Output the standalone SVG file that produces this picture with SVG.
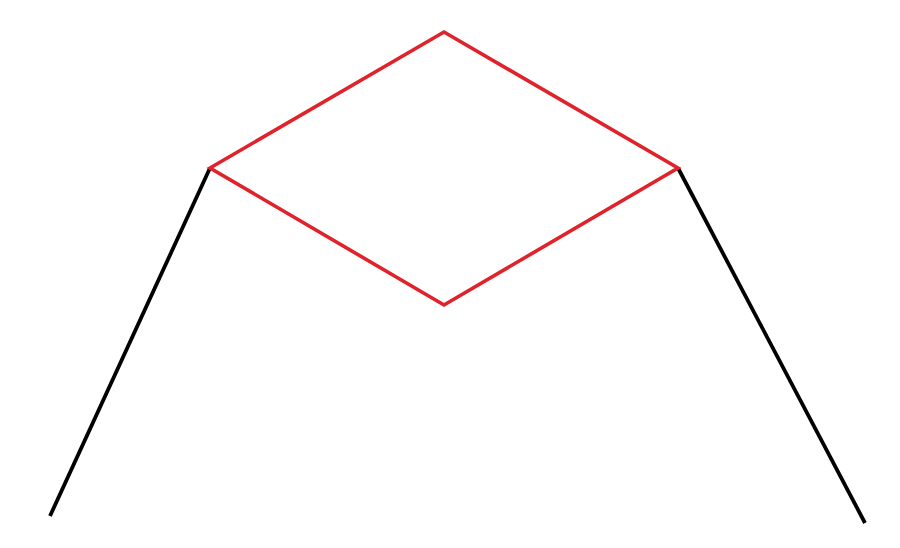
<svg xmlns="http://www.w3.org/2000/svg" width="900" height="548" viewBox="0 0 900 548">
<style>
.black{fill:none;stroke:#000;stroke-width:3.8;stroke-linecap:butt;stroke-linejoin:miter}
.red{fill:none;stroke:#e0222b;stroke-width:3.6;stroke-linejoin:miter}
</style>
<rect width="900" height="548" fill="#fff"/>
<g id="connectors">
<line class="black" x1="50" y1="516" x2="210" y2="168"/>
<line class="black" x1="678" y1="168" x2="865" y2="523"/>
</g>
<g id="diamond">
<polygon class="red" points="210,168 444,32 678,168 444,305"/>
</g>
</svg>
